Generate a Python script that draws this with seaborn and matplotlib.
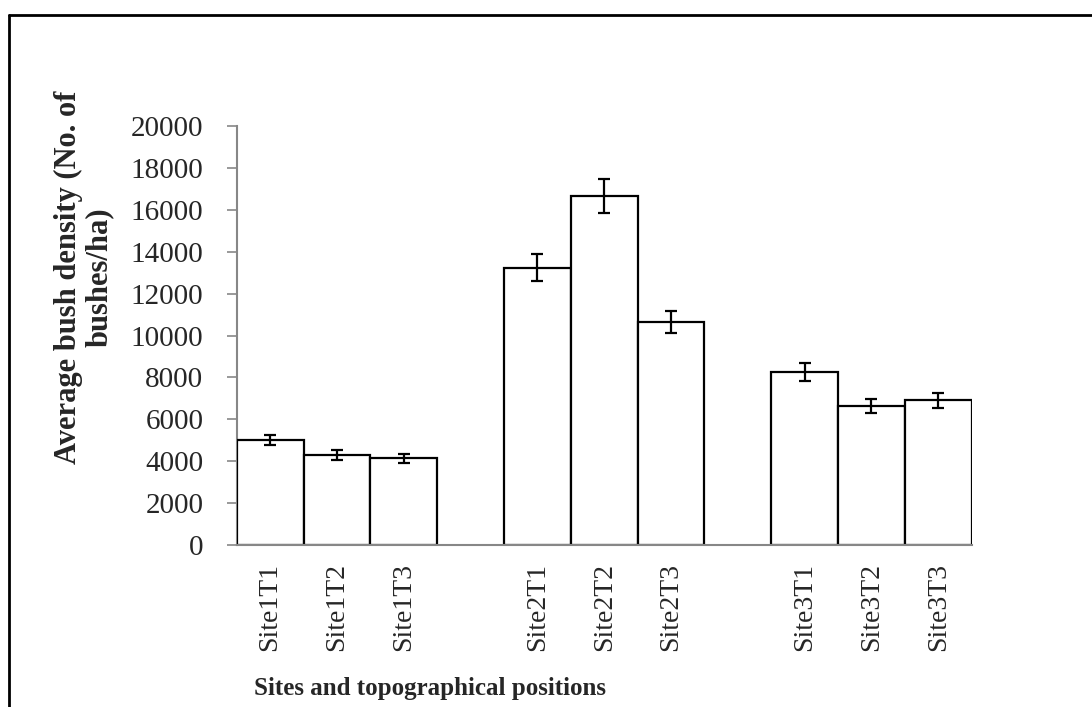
import matplotlib
matplotlib.use("Agg")
import matplotlib.pyplot as plt
import seaborn as sns
import pandas as pd
from matplotlib.lines import Line2D

categories = ["Site1T1", "Site1T2", "Site1T3",
              "Site2T1", "Site2T2", "Site2T3",
              "Site3T1", "Site3T2", "Site3T3"]
values = [5000, 4300, 4130, 13230, 16650, 10650, 8250, 6650, 6900]
errors = [250, 220, 210, 650, 820, 530, 420, 340, 350]
order = ["Site1T1", "Site1T2", "Site1T3", " ",
         "Site2T1", "Site2T2", "Site2T3", "  ",
         "Site3T1", "Site3T2", "Site3T3"]
yticks = list(range(0, 20001, 2000))

sns.set_theme(style="white")
plt.rcParams['font.family'] = ['Liberation Serif', 'DejaVu Serif']

fig = plt.figure(figsize=(10.92, 7.07), dpi=100)
ax = fig.add_axes([236.7/1092, 1-545/707, 735/1092, 419/707])

df = pd.DataFrame({"cat": categories, "val": values})
sns.barplot(data=df, x="cat", y="val", order=order, color="white",
            edgecolor="black", linewidth=1.6, width=1.0, saturation=1,
            errorbar=None, ax=ax)

pos = [order.index(c) for c in categories]
ax.errorbar(pos, values, yerr=errors, fmt="none", ecolor="black",
            elinewidth=1.6, capsize=4.5, capthick=1.6, zorder=5)

ax.set_xlim(-0.5, len(order) - 0.5)
ax.set_ylim(0, 20000)
ax.set_yticks(yticks)
ax.set_yticklabels([str(v) for v in yticks], fontsize=21)
ax.set_xticks(range(len(order)))
ax.set_xticklabels(order, rotation=90, fontsize=20)
ax.tick_params(axis="y", which="major", left=True, length=7, width=1.2,
               color="#878787", pad=17)
ax.tick_params(axis="x", length=0, pad=13)
ax.set_xlabel("")
ax.set_ylabel("")
for s in ["top", "right"]:
    ax.spines[s].set_visible(False)
for s in ["left", "bottom"]:
    ax.spines[s].set_color("#878787")
    ax.spines[s].set_linewidth(1.5)
ax.spines["left"].set_zorder(0)

fig.text(84/1092, 1-277/707, "Average bush density (No. of\nbushes/ha)",
         rotation=90, ha="center", va="center", multialignment="center",
         fontsize=22, fontweight="bold", linespacing=1.05)
fig.text(430/1092, 1-688/707, "Sites and topographical positions",
         ha="center", va="center", fontsize=18, fontweight="bold")

fig.add_artist(Line2D([8.5/1092, 1.0], [1-14.7/707, 1-14.7/707],
                      transform=fig.transFigure, color="black", lw=2))
fig.add_artist(Line2D([8.5/1092, 8.5/1092], [0.0, 1-14.7/707],
                      transform=fig.transFigure, color="black", lw=2))

fig.savefig("out.png", dpi=100, facecolor="white")
